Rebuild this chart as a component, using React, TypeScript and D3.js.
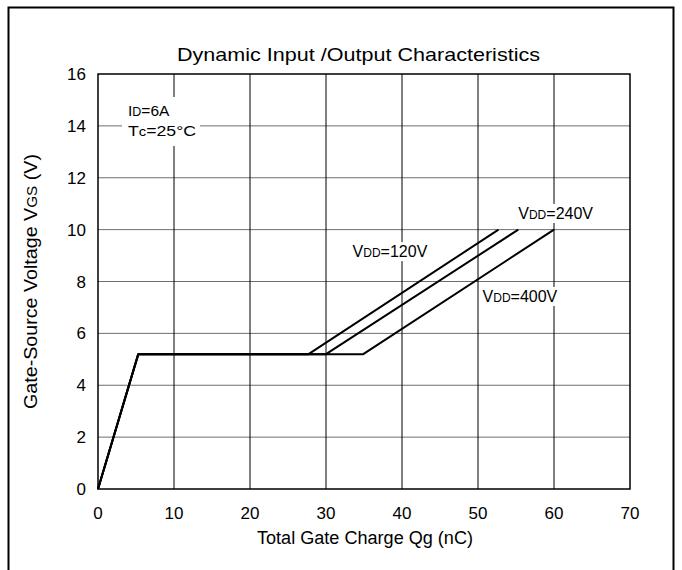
import React from 'react';
import * as d3 from 'd3';

// gate charge curves, one per VDD
const seriesNames = ['120V', '240V', '400V'];
const qgValues = [
  [0, 5.3, 27.7, 52.7],
  [0, 5.3, 30.0, 55.3],
  [0, 5.3, 34.9, 60.0],
];
const vgsValues = [
  [0, 5.2, 5.2, 10],
  [0, 5.2, 5.2, 10],
  [0, 5.2, 5.2, 10],
];
const xTicks = [0, 10, 20, 30, 40, 50, 60, 70];
const yTicks = [0, 2, 4, 6, 8, 10, 12, 14, 16];

const W = 682;
const H = 570;
const margin = { top: 74, right: 52, bottom: 81, left: 98 };
const font = '"Liberation Sans", Arial, sans-serif';

export default function App() {
  const x = d3.scaleLinear().domain([0, 70]).range([margin.left, W - margin.right]);
  const y = d3.scaleLinear().domain([0, 16]).range([H - margin.bottom, margin.top]);
  const line = d3.line<[number, number]>().x(d => x(d[0])).y(d => y(d[1]));

  // label anchors (left edge / baseline) in data units
  const labels = [
    { name: seriesNames[0], q: 33.5, v: 8.94, w: 76 },
    { name: seriesNames[1], q: 55.3, v: 10.41, w: 78 },
    { name: seriesNames[2], q: 50.6, v: 7.21, w: 78 },
  ];

  return (
    <svg width={W} height={H} style={{ position: 'absolute', left: 0, top: 0 }}>
      <rect x={0} y={0} width={W} height={H} fill="#fff" />
      <rect x={8.5} y={7.5} width={665} height={570} fill="none" stroke="#000" strokeWidth={2} />
      <text
        x={177}
        y={61}
        fontFamily={font}
        fontSize={18.5}
        textLength={363}
        lengthAdjust="spacingAndGlyphs"
      >
        Dynamic Input /Output Characteristics
      </text>
      {yTicks.map(t => (
        <g key={'y' + t}>
          {t > 0 && t < 16 && (
            <line x1={x(0)} x2={x(70)} y1={y(t)} y2={y(t)} stroke="#6e6e6e" strokeWidth={1} />
          )}
          <text x={x(0) - 12} y={y(t) + 6} textAnchor="end" fontFamily={font} fontSize={17}>{t}</text>
        </g>
      ))}
      {xTicks.map(t => (
        <g key={'x' + t}>
          {t > 0 && t < 70 && (
            <line x1={x(t)} x2={x(t)} y1={y(0)} y2={y(16)} stroke="#000" strokeWidth={1} />
          )}
          <text x={x(t)} y={y(0) + 30} textAnchor="middle" fontFamily={font} fontSize={17}>{t}</text>
        </g>
      ))}
      {/* label backgrounds cut the grid */}
      <rect x={122} y={97} width={78} height={49} fill="#fff" />
      {labels.map(l => (
        <rect key={'bg' + l.name} x={x(l.q) - 2} y={y(l.v) - 15} width={l.w} height={19} fill="#fff" />
      ))}
      <text x={128} y={116} fontFamily={font} fontSize={15.5}>
        I<tspan fontSize={12.5}>D</tspan>=6A
      </text>
      <text x={128} y={136} fontFamily={font} fontSize={15.5} textLength={68} lengthAdjust="spacingAndGlyphs">
        T<tspan fontSize={13}>c</tspan>=25°C
      </text>
      {labels.map(l => (
        <text key={'t' + l.name} x={x(l.q)} y={y(l.v)} fontFamily={font} fontSize={16}>
          V<tspan fontSize={12}>DD</tspan>={l.name}
        </text>
      ))}
      {qgValues.map((qs, i) => (
        <path
          key={'c' + i}
          d={line(qs.map((q, j) => [q, vgsValues[i][j]] as [number, number])) || ''}
          fill="none"
          stroke="#000"
          strokeWidth={2}
          strokeLinejoin="round"
        />
      ))}
      <rect x={x(0)} y={y(16)} width={x(70) - x(0)} height={y(0) - y(16)} fill="none" stroke="#000" strokeWidth={1.5} />
      <text
        x={257}
        y={544}
        fontFamily={font}
        fontSize={18}
        textLength={216}
        lengthAdjust="spacingAndGlyphs"
      >
        Total Gate Charge Qg (nC)
      </text>
      <text
        transform={`translate(37,${(y(0) + y(16)) / 2}) rotate(-90)`}
        textAnchor="middle"
        fontFamily={font}
        fontSize={18}
        textLength={255}
        lengthAdjust="spacingAndGlyphs"
      >
        Gate-Source Voltage V<tspan fontSize={14}>GS</tspan> (V)
      </text>
    </svg>
  );
}
